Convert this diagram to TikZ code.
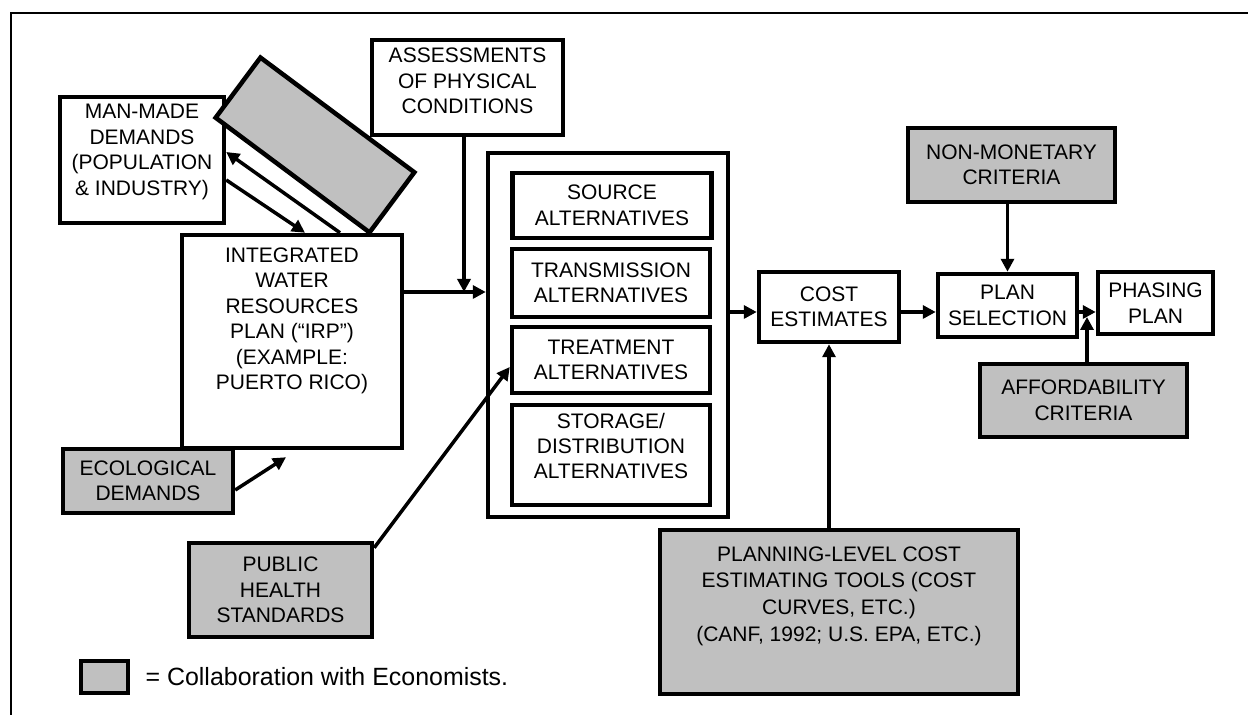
\documentclass[tikz,border=0pt]{standalone}
\usepackage{fontspec}
\setmainfont{Liberation Sans}
\usetikzlibrary{arrows.meta,positioning,calc}
\definecolor{econgray}{RGB}{192,192,192}
\tikzset{
  txt/.style={align=center, inner sep=0pt, font=\fontsize{11.95pt}{14.5pt}\selectfont},
  wbox/.style={txt, draw, line width=0.09cm, fill=white},
  gbox/.style={wbox, fill=econgray},
  arr/.style={line width=0.07cm, -{Triangle[length=0.26cm,width=0.26cm]}},
}
\begin{document}
\begin{tikzpicture}[x=0.02cm, y=-0.02cm]
\useasboundingbox (0,0) rectangle (1248,715);
% frame
\draw[line width=0.05cm] (11,715) -- (11,13) -- (1248,13);

% left side
\node[wbox, minimum width=3.28cm, minimum height=2.52cm] (man) at (142,160) {};
\node[txt] at (142,152) {MAN-MADE\\DEMANDS\\(POPULATION\\\& INDUSTRY)};
\node[wbox, minimum width=4.4cm, minimum height=4.26cm] (irp) at (292,341.5) {};
\node[txt] at (292,321) {INTEGRATED\\WATER\\RESOURCES\\PLAN (``IRP'')\\(EXAMPLE:\\PUERTO RICO)};
\node[gbox, minimum width=3.84cm, minimum height=1.5cm, rotate=-36.7] (blank) at (315,145) {};
\node[gbox, minimum width=3.4cm, minimum height=1.28cm] (eco) at (148,481) {ECOLOGICAL\\DEMANDS};
\node[gbox, minimum width=3.66cm, minimum height=1.88cm] (pub) at (280.5,590) {PUBLIC\\HEALTH\\STANDARDS};
\node[wbox, minimum width=3.82cm, minimum height=1.9cm] (assess) at (467.5,87.5) {};
\node[txt] at (467.5,81) {ASSESSMENTS\\OF PHYSICAL\\CONDITIONS};

% alternatives
\node[wbox, minimum width=4.8cm, minimum height=7.28cm] (alts) at (608,335) {};
\node[wbox, minimum width=3.98cm, minimum height=1.3cm] (source) at (612,205.5) {SOURCE\\ALTERNATIVES};
\node[wbox, minimum width=3.96cm, minimum height=1.36cm] (trans) at (611,283) {TRANSMISSION\\ALTERNATIVES};
\node[wbox, minimum width=3.96cm, minimum height=1.32cm] (treat) at (611,360) {TREATMENT\\ALTERNATIVES};
\node[wbox, minimum width=3.96cm, minimum height=2cm] (store) at (611,455) {};
\node[txt] at (611,446) {STORAGE/\\DISTRIBUTION\\ALTERNATIVES};

% right side
\node[wbox, minimum width=2.8cm, minimum height=1.4cm] (cost) at (829,307) {COST\\ESTIMATES};
\node[wbox, minimum width=2.78cm, minimum height=1.26cm] (plan) at (1007.5,305.5) {PLAN\\SELECTION};
\node[wbox, minimum width=2.3cm, minimum height=1.24cm] (phase) at (1155.5,303) {PHASING\\PLAN};
\node[gbox, minimum width=4.14cm, minimum height=1.48cm] (nonmon) at (1011.5,165) {NON-MONETARY\\CRITERIA};
\node[gbox, minimum width=4.14cm, minimum height=1.46cm] (afford) at (1083.5,400.5) {AFFORDABILITY\\CRITERIA};
\node[gbox, minimum width=7.16cm, minimum height=3.28cm] (tools) at (839,612) {};
\node[txt, font=\fontsize{11.95pt}{15.2pt}\selectfont] at (839,596) {PLANNING-LEVEL COST\\ESTIMATING TOOLS (COST\\CURVES, ETC.)\\(CANF, 1992; U.S. EPA, ETC.)};

% legend
\node[gbox, minimum width=0.94cm, minimum height=0.64cm] (key) at (104.5,677) {};
\node[txt, right=0.3cm of key, font=\fontsize{14.2pt}{17pt}\selectfont] (keytext) {= Collaboration with Economists.};

% arrows
\coordinate (join) at (464,292);
\coordinate (row) at (0,312);
\coordinate (tie) at (1087,317);
\draw[arr] ($(irp.north)+(48,0)$) -- ($(man.east)+(0,-8)$);
\draw[arr] ($(man.east)+(0,20)$) -- ($(irp.north)+(13,0)$);
\draw[arr] ($(eco.east)+(0,9)$) -- ($(irp.south)+(-6,7)$);
\draw[arr] ($(pub.north east)+(0,7)$) -- ($(treat.west)+(0,7)$);
\draw[arr] (irp.east |- join) -- (alts.west |- join);
\draw[arr] (assess.south -| join) -- (join);
\draw[arr] (alts.east |- row) -- (cost.west |- row);
\draw[arr] (cost.east |- row) -- (plan.west |- row);
\draw[arr] (plan.east |- row) -- (phase.west |- row);
\draw[arr] (nonmon.south -| plan.north) -- (plan.north);
\draw[arr] (afford.north -| tie) -- (tie);
\draw[arr] (tools.north -| cost.south) -- (cost.south);
\end{tikzpicture}
\end{document}
